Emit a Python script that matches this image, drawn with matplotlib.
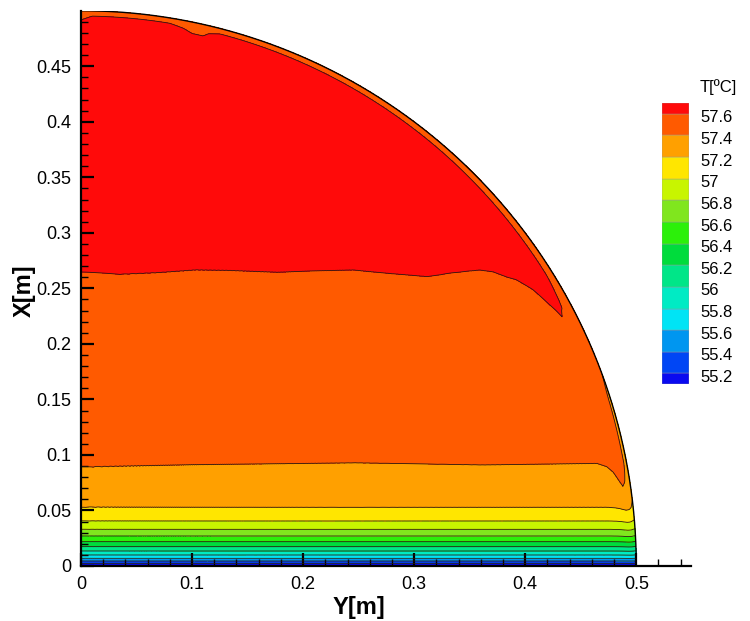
import numpy as np
import matplotlib.pyplot as plt
from matplotlib import ticker

plt.rcParams['font.family'] = ['Liberation Sans', 'DejaVu Sans']

# contour levels and legend
levels = [55.2, 55.4, 55.6, 55.8, 56.0, 56.2, 56.4, 56.6, 56.8, 57.0, 57.2, 57.4, 57.6]
level_labels = ['55.2', '55.4', '55.6', '55.8', '56', '56.2', '56.4', '56.6',
                '56.8', '57', '57.2', '57.4', '57.6']
band_colors = ['#0a0af0', '#0046f5', '#0096f0', '#00e4f5', '#00ebc4', '#00e688',
               '#00dc3c', '#2cf00a', '#80e61e', '#c8f500', '#ffe600', '#ffa000',
               '#ff5a00', '#ff0a0a']

# heights [m] of the lower contours (55.2 ... 57.2), flat across the tank
low_heights = [0.0024, 0.0045, 0.0069, 0.0099, 0.0135, 0.0174, 0.0219,
               0.027, 0.033, 0.0405, 0.0528]
T_floor = 55.0
T_top = 57.7

# 57.4 and 57.6 contours read along the horizontal axis
line574_x = [0.0, 0.1, 0.247, 0.362, 0.474, 0.5]
line574_z = [0.0888, 0.091, 0.0928, 0.0909, 0.0924, 0.0924]
line576_x = [0.0, 0.036, 0.07, 0.103, 0.132, 0.177, 0.207, 0.245, 0.276,
             0.312, 0.335, 0.359, 0.384, 0.5]
line576_z = [0.2646, 0.2625, 0.264, 0.2664, 0.266, 0.2643, 0.2655, 0.2664,
             0.2634, 0.2604, 0.264, 0.2664, 0.263, 0.263]

# wall boundary layer (warm plume inside a cold skin) vs height
layer_z = [0.0, 0.05, 0.07, 0.1, 0.15, 0.23, 0.3, 0.4, 0.5]
warm_amp = [0.0, 0.04, 0.105, 0.095, 0.075, 0.043, 0.035, 0.025, 0.02]
cold_amp = [0.0, 0.02, 0.05, 0.08, 0.1, 0.08, 0.12, 0.2, 0.24]
layer_scale = [0.5, 0.5, 0.52, 0.6, 0.75, 0.95, 1.0, 1.0, 1.0]
warm_d = [0.0, 0.004, 0.008, 0.013, 0.018, 0.024, 0.032, 0.045]
warm_shape = [0.0, 0.35, 0.8, 1.0, 0.75, 0.4, 0.15, 0.0]
cold_d = [0.0, 0.002, 0.004, 0.006, 0.009]
cold_shape = [1.0, 0.9, 0.6, 0.2, 0.0]
# thicker cold skin near the top (x ~ 0 and the dent at x ~ 0.1)
skin_x = [0.0, 0.01, 0.08, 0.092, 0.1, 0.11, 0.115, 0.125, 0.5]
skin_k = [1.8, 1.0, 1.0, 1.5, 2.2, 2.2, 1.5, 1.0, 1.0]

R = 0.5

r = np.concatenate([np.linspace(0, 0.44, 300), np.linspace(0.44, R, 300)[1:]])
th = np.linspace(0, 1, 900) ** 2 * np.pi / 2
RR, TH = np.meshgrid(r, th)
X = RR * np.cos(TH)
Z = RR * np.sin(TH)
D = R - RR

z574 = np.interp(X, line574_x, line574_z)
z576 = np.interp(X, line576_x, line576_z)
t_low = np.interp(Z, [0.0] + low_heights, [T_floor] + levels[:11])
t_mid = 57.2 + 0.2 * (Z - 0.0528) / (z574 - 0.0528)
t_up = 57.4 + 0.2 * (Z - z574) / (z576 - z574)
t_hi = 57.6 + (T_top - 57.6) * (Z - z576) / (R - z576)
T = np.select([Z <= 0.0528, Z <= z574, Z <= z576], [t_low, t_mid, t_up], t_hi)

sc = np.interp(Z, layer_z, layer_scale)
skin = np.where(Z > 0.4, np.interp(X, skin_x, skin_k), 1.0)
T = T + np.interp(Z, layer_z, warm_amp) * np.interp(D / sc, warm_d, warm_shape)
T = T - np.interp(Z, layer_z, cold_amp) * np.interp(D / (sc * skin), cold_d, cold_shape)

fig = plt.figure(figsize=(7.5, 6.21), dpi=100)
ax = fig.add_axes([81 / 750, 1 - 566 / 621, 609.7 / 750, 554.7 / 621])

fill_levels = [T_floor - 1] + levels + [T_top + 1]
ax.contourf(X, Z, T, levels=fill_levels, colors=band_colors)
ax.contour(X, Z, T, levels=levels, colors='#2b1a10', linewidths=0.6)
arc = np.linspace(0, np.pi / 2, 400)
ax.plot(R * np.cos(arc), R * np.sin(arc), color='k', lw=1.0)

ax.set_xlim(0, 0.549)
ax.set_ylim(0, 0.4995)
for s in ['top', 'right']:
    ax.spines[s].set_visible(False)
for s in ['left', 'bottom']:
    ax.spines[s].set_linewidth(1.6)

ax.xaxis.set_major_locator(ticker.MultipleLocator(0.1))
ax.xaxis.set_minor_locator(ticker.MultipleLocator(0.02))
ax.yaxis.set_major_locator(ticker.MultipleLocator(0.05))
ax.yaxis.set_minor_locator(ticker.MultipleLocator(0.01))
ax.xaxis.set_major_formatter(ticker.FormatStrFormatter('%g'))
ax.yaxis.set_major_formatter(ticker.FormatStrFormatter('%g'))
ax.tick_params(which='major', direction='in', length=9.5, width=1.6,
               labelsize=13, pad=7)
ax.tick_params(which='minor', direction='in', length=5, width=1.0)

ax.text(0.25, -0.075, 'Y[m]', ha='center', va='center', fontsize=17,
        fontweight='bold', transform=ax.get_xaxis_transform())
ax.text(-0.093, 0.248, 'X[m]', ha='center', va='center', fontsize=17,
        fontweight='bold', rotation=90, transform=ax.get_yaxis_transform())

# legend
cax = fig.add_axes([662 / 750, 1 - 384.3 / 621, 27 / 750, 281.3 / 621])
bottoms = [55.1] + levels
tops = levels + [57.7]
cax.bar(0.5, np.array(tops) - np.array(bottoms), bottom=bottoms, width=1.0,
        color=band_colors, edgecolor='#9a9a9a', linewidth=0.3)
cax.set_xlim(0, 1)
cax.set_ylim(55.1, 57.7)
cax.axis('off')
for lv, lab in zip(levels, level_labels):
    cax.text(1.41, lv - 0.037, lab, ha='left', va='center', fontsize=12,
             transform=cax.get_yaxis_transform())
fig.text(700 / 750, 1 - 87 / 621, 'T[ºC]', ha='left', va='center', fontsize=12)

fig.savefig('out.png', dpi=100)
